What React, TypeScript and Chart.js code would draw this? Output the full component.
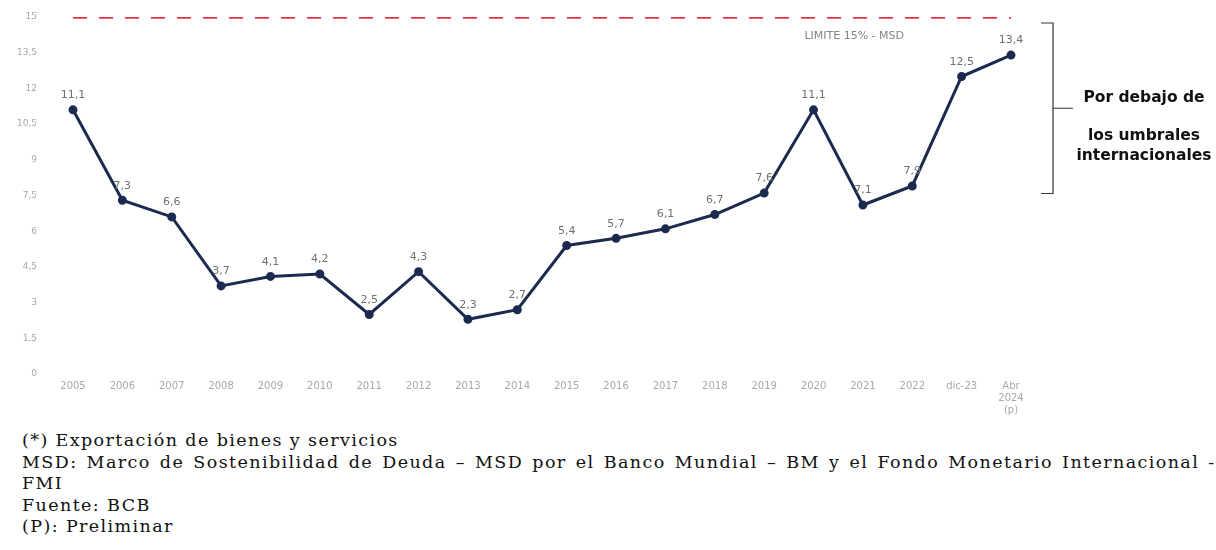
import React, { useEffect, useRef } from "react";
import { Chart, registerables } from "chart.js";

Chart.register(...registerables);

const categories: (string | string[])[] = [
  "2005", "2006", "2007", "2008", "2009", "2010", "2011", "2012", "2013", "2014",
  "2015", "2016", "2017", "2018", "2019", "2020", "2021", "2022", "dic-23", ["Abr", "2024", "(p)"],
];
const ratioValues = [11.1, 7.3, 6.6, 3.7, 4.1, 4.2, 2.5, 4.3, 2.3, 2.7, 5.4, 5.7, 6.1, 6.7, 7.6, 11.1, 7.1, 7.9, 12.5, 13.4];
const limitValue = 15;
const limitLabel = "LIMITE 15% - MSD";
const yTicks = [0, 1.5, 3, 4.5, 6, 7.5, 9, 10.5, 12, 13.5, 15];
const bracketRange = [15, 7.5];
const bracketText = ["Por debajo de", "los umbrales", "internacionales"];
const footnotes = [
  "(*) Exportación de bienes y servicios",
  "MSD: Marco de Sostenibilidad de Deuda – MSD por el Banco Mundial – BM y el Fondo Monetario Internacional -",
  "FMI",
  "Fuente: BCB",
  "(P): Preliminar",
];

const fmt = (v: number) => String(v).replace(".", ",");

const annotationPlugin = {
  id: "annots",
  afterDatasetsDraw(chart: any) {
    const ctx = chart.ctx;
    const meta = chart.getDatasetMeta(0);
    const x = chart.scales.x;
    const y = chart.scales.y;
    ctx.save();
    // data labels
    ctx.font = "11px 'DejaVu Sans'";
    ctx.fillStyle = "#707070";
    ctx.textAlign = "center";
    ctx.textBaseline = "bottom";
    meta.data.forEach((pt: any, i: number) => {
      ctx.fillText(fmt(ratioValues[i]), pt.x, pt.y - 9);
    });
    // limit label
    ctx.font = "11px 'DejaVu Sans'";
    ctx.fillStyle = "#858585";
    ctx.textBaseline = "middle";
    const lx = (x.getPixelForValue(15) + x.getPixelForValue(16)) / 2 + 16;
    ctx.fillText(limitLabel, lx, y.getPixelForValue(limitValue) + 19);
    // bracket
    const bx = chart.chartArea.right + 42;
    const top = y.getPixelForValue(bracketRange[0]) + 6;
    const bot = y.getPixelForValue(bracketRange[1]) - 2;
    const mid = (top + bot) / 2;
    ctx.strokeStyle = "#333";
    ctx.lineWidth = 1.2;
    ctx.beginPath();
    ctx.moveTo(bx - 12, top);
    ctx.lineTo(bx, top);
    ctx.lineTo(bx, bot);
    ctx.lineTo(bx - 12, bot);
    ctx.moveTo(bx, mid);
    ctx.lineTo(bx + 20, mid);
    ctx.stroke();
    ctx.font = "bold 15.5px 'DejaVu Sans'";
    ctx.fillStyle = "#111";
    ctx.textBaseline = "middle";
    const tx = bx + 91;
    ctx.fillText(bracketText[0], tx, mid - 10);
    ctx.fillText(bracketText[1], tx, mid + 28);
    ctx.fillText(bracketText[2], tx, mid + 48);
    ctx.restore();
  },
};

export default function App() {
  const ref = useRef<HTMLCanvasElement>(null);
  useEffect(() => {
    document.body.style.margin = "0";
    const chart = new Chart(ref.current!, {
      type: "line",
      data: {
        labels: categories,
        datasets: [
          {
            data: ratioValues,
            borderColor: "#1b2a4e",
            backgroundColor: "#1b2a4e",
            borderWidth: 3,
            pointRadius: 3,
            pointBackgroundColor: "#1b2a4e",
            tension: 0,
          },
          {
            data: categories.map(() => limitValue),
            borderColor: "#e6343f",
            borderWidth: 3.5,
            borderDash: [14, 12],
            pointRadius: 0,
          },
        ],
      },
      options: {
        animation: false,
        responsive: false,
        layout: { padding: { left: 0, right: 205, top: 17, bottom: 0 } },
        plugins: { legend: { display: false }, tooltip: { enabled: false } },
        scales: {
          x: {
            offset: false,
            grid: { display: false, drawTicks: false },
            border: { display: false },
            ticks: {
              autoSkip: false,
              maxRotation: 0,
              padding: 6,
              color: "#a8a8a8",
              font: { size: 10, family: "'DejaVu Sans'" },
            },
            afterFit: (s: any) => { s.height = 46; s.paddingLeft = 0; s.paddingRight = 0; },
          },
          y: {
            min: 0,
            max: 15,
            grid: { display: false, drawTicks: false },
            border: { display: false },
            afterBuildTicks: (s: any) => { s.ticks = yTicks.map((v) => ({ value: v })); },
            ticks: {
              padding: 36,
              color: "#a8a8a8",
              font: { size: 9, family: "'DejaVu Sans'" },
              callback: (v: any) => fmt(Number(v)),
            },
            afterFit: (s: any) => { s.width = 73; s.paddingTop = 0; s.paddingBottom = 0; },
          },
        },
      },
      plugins: [annotationPlugin],
    });
    return () => chart.destroy();
  }, []);
  return (
    <div style={{ position: "relative", width: 1216, height: 550, background: "#fff", overflow: "hidden" }}>
      <canvas ref={ref} width={1216} height={420} style={{ position: "absolute", left: 0, top: 0 }} />
      <div
        style={{
          position: "absolute",
          left: 22,
          top: 430,
          fontFamily: "'DejaVu Serif'",
          fontSize: 17.5,
          letterSpacing: 1.4,
          lineHeight: "21.5px",
          color: "#111",
          whiteSpace: "nowrap",
        }}
      >
        {footnotes.map((t, i) => (
          <div key={i} style={i === 1 ? { wordSpacing: 2.2 } : undefined}>{t}</div>
        ))}
      </div>
    </div>
  );
}
